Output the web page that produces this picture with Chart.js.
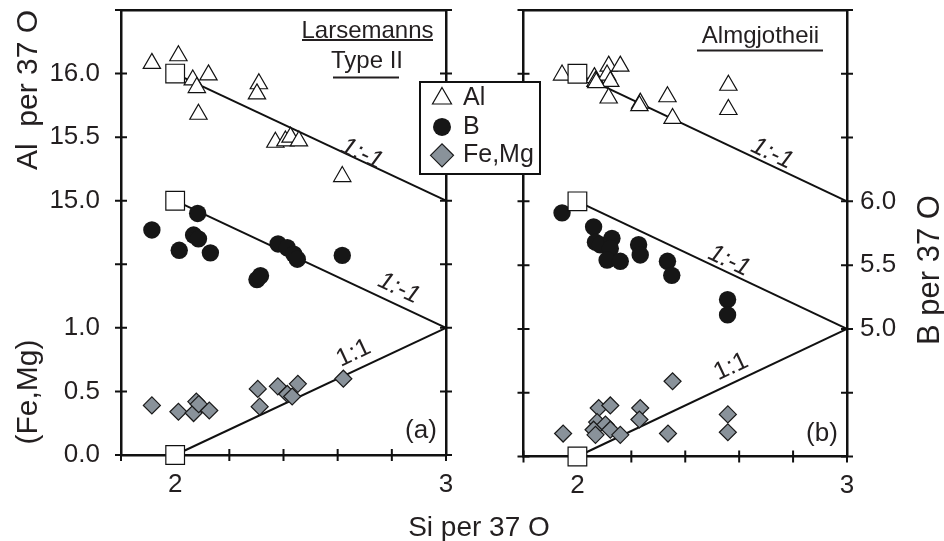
<!DOCTYPE html>
<html>

<head>
  <title>Si per 37 O</title>
  <script src="https://cdn.jsdelivr.net/npm/chart.js@4.4.0/dist/chart.umd.min.js"></script>
  <style>
    body { margin: 0; background: #fff; }
    #wrap { position: relative; width: 944px; height: 541px; overflow: hidden; }
    #chartB { position: absolute; left: 470px; top: 0; }
    #chartA { position: absolute; left: 0; top: 0; z-index: 2; }
  </style>
</head>

<body>
  <div id="wrap">
    <canvas id="chartB" width="474" height="541"></canvas>
    <canvas id="chartA" width="560" height="541"></canvas>
  </div>

  <script>
    // Al and B share the y axis with (Fe,Mg): Al is plotted as Al - 13, B as B - 4
    const AL_OFFSET = 13;
    const B_OFFSET = 4;

    // (a) Larsemanns Type II
    const siAlA = [1.914, 2.012, 2.065, 2.080, 2.123, 2.086, 2.309, 2.302, 2.370, 2.407, 2.426, 2.457, 2.617];
    const alA = [16.08, 16.14, 15.95, 15.89, 15.99, 15.68, 15.92, 15.84, 15.46, 15.47, 15.50, 15.47, 15.19];
    const siBA = [1.914, 2.015, 2.083, 2.068, 2.086, 2.130, 2.380, 2.414, 2.438, 2.451, 2.617, 2.302, 2.315];
    const bA = [5.77, 5.61, 5.90, 5.73, 5.70, 5.59, 5.66, 5.63, 5.58, 5.54, 5.57, 5.38, 5.41];
    const siFeA = [1.914, 2.012, 2.068, 2.078, 2.087, 2.126, 2.305, 2.312, 2.379, 2.414, 2.432, 2.453, 2.621];
    const feA = [0.39, 0.34, 0.33, 0.42, 0.40, 0.35, 0.52, 0.38, 0.54, 0.48, 0.46, 0.56, 0.60];

    // (b) Almgjotheii
    const siAlB = [1.943, 2.063, 2.067, 2.116, 2.159, 2.110, 2.122, 2.070, 2.116, 2.233, 2.230, 2.334, 2.353, 2.560, 2.560];
    const alB = [15.99, 15.97, 15.94, 16.06, 16.06, 15.99, 15.94, 15.93, 15.81, 15.77, 15.75, 15.82, 15.65, 15.91, 15.72];
    const siBB = [1.943, 2.060, 2.067, 2.085, 2.128, 2.122, 2.110, 2.159, 2.227, 2.233, 2.334, 2.350, 2.557, 2.557];
    const bB = [5.91, 5.80, 5.68, 5.66, 5.71, 5.63, 5.54, 5.53, 5.66, 5.58, 5.53, 5.42, 5.23, 5.11];
    const siFeB = [1.947, 2.079, 2.122, 2.073, 2.060, 2.067, 2.104, 2.122, 2.159, 2.233, 2.230, 2.336, 2.353, 2.558, 2.558];
    const feB = [0.18, 0.38, 0.40, 0.27, 0.21, 0.17, 0.25, 0.21, 0.17, 0.38, 0.29, 0.18, 0.59, 0.33, 0.19];

    // substitution trends from the ideal end member at Si = 2
    const trendSi = [2, 3];
    const trendAl = [16, 15];
    const trendB = [6, 5];
    const trendFe = [0, 1];

    const xTicks = [2, 3];
    const feTicks = [0, 0.5, 1];
    const alTicks = [15, 15.5, 16];
    const bTicks = [5, 5.5, 6];

    const FONT = "'Liberation Sans', Arial, sans-serif";
    const INK = '#231f20';
    const TICK = 6;

    const near = (a, b) => Math.abs(a - b) < 1e-6;
    const pts = (xs, ys, off) => xs.map((x, i) => ({ x: x, y: ys[i] - off }));

    function markerSets(siAl, al, siB, b, siFe, fe) {
      return [
        { label: 'Al', data: pts(siAl, al, AL_OFFSET), pointStyle: 'triangle', pointRadius: 10,
          backgroundColor: '#fff', borderColor: '#111', borderWidth: 1.2, order: 2, clip: false },
        { label: 'B', data: pts(siB, b, B_OFFSET), pointStyle: 'circle', pointRadius: 8.7,
          backgroundColor: '#161616', borderColor: '#161616', borderWidth: 0, order: 2, clip: false },
        { label: 'Fe,Mg', data: pts(siFe, fe, 0), pointStyle: 'rectRot', pointRadius: 8.5,
          backgroundColor: '#89929a', borderColor: '#1a1a1a', borderWidth: 1.2, order: 2, clip: false },
        { label: 'end member', data: [{ x: trendSi[0], y: trendAl[0] - AL_OFFSET }, { x: trendSi[0], y: trendB[0] - B_OFFSET }, { x: trendSi[0], y: trendFe[0] }],
          pointStyle: 'rect', pointRadius: 13.2, backgroundColor: '#fff', borderColor: '#111', borderWidth: 1.2, order: 1, clip: false },
        lineSet(pts(trendSi, trendAl, AL_OFFSET)),
        lineSet(pts(trendSi, trendB, B_OFFSET)),
        lineSet(pts(trendSi, trendFe, 0))
      ];
    }

    function lineSet(data) {
      return { type: 'line', data: data, showLine: true, pointRadius: 0, borderColor: '#111', borderWidth: 2, order: 5, clip: false };
    }

    // short line height for y labels so they don't pad the frame;
    // the tick marks themselves are drawn by the innerTicks plugin
    const tickFont = { family: FONT, size: 26 };
    const yTickFont = { family: FONT, size: 26, lineHeight: 0.3 };
    const hiddenTicks = len => ({ drawOnChartArea: false, tickLength: len, tickColor: 'rgba(0,0,0,0)' });
    const axisBorder = { color: '#111', width: 2.5 };

    function xAxis(height) {
      return {
        type: 'linear', position: 'bottom', min: 1.8, max: 3.0,
        ticks: { stepSize: 0.2, autoSkip: false, maxRotation: 0, padding: 8, color: INK, font: tickFont,
          callback: v => xTicks.some(t => near(t, v)) ? String(Math.round(v)) : '' },
        grid: hiddenTicks(TICK), border: axisBorder,
        afterFit: s => { s.height = height; }
      };
    }

    function topAxis() {
      return {
        type: 'linear', position: 'top', min: 1.8, max: 3.0,
        ticks: { display: false },
        grid: { drawOnChartArea: false, drawTicks: false }, border: axisBorder,
        afterFit: s => { s.height = 10; }
      };
    }

    function yAxis(position, width, gap, label) {
      return {
        type: 'linear', position: position, min: 0, max: 3.5,
        ticks: { stepSize: 0.5, autoSkip: false, padding: 0, color: INK, font: yTickFont, callback: label },
        grid: hiddenTicks(gap), border: axisBorder,
        afterFit: s => { s.width = width; }
      };
    }

    const leftLabels = v => {
      if (feTicks.some(t => near(t, v))) return v.toFixed(1);
      if (alTicks.some(t => near(t, v + AL_OFFSET))) return (v + AL_OFFSET).toFixed(1);
      return '';
    };
    const rightLabels = v => bTicks.some(t => near(t, v + B_OFFSET)) ? (v + B_OFFSET).toFixed(1) : '';
    const noLabels = () => '';

    // tick marks cross the frame
    const innerTicks = {
      id: 'innerTicks',
      beforeDatasetsDraw(chart) {
        const { ctx, chartArea: a } = chart;
        ctx.save();
        ctx.strokeStyle = '#111';
        ctx.lineWidth = 2;
        ctx.beginPath();
        Object.values(chart.scales).forEach(s => {
          if (!s.options.grid.drawTicks) return;
          s.ticks.forEach(t => {
            const p = s.getPixelForValue(t.value);
            if (s.position === 'bottom') { ctx.moveTo(p, a.bottom + TICK); ctx.lineTo(p, a.bottom - TICK); }
            if (s.position === 'left') { ctx.moveTo(a.left - TICK, p); ctx.lineTo(a.left + TICK, p); }
            if (s.position === 'right') { ctx.moveTo(a.right + TICK, p); ctx.lineTo(a.right - TICK, p); }
          });
        });
        ctx.stroke();
        ctx.restore();
      }
    };

    function text(ctx, str, x, y, o) {
      ctx.save();
      ctx.translate(x, y);
      if (o.angle) ctx.rotate(o.angle);
      ctx.font = (o.italic ? 'italic ' : '') + o.size + 'px ' + FONT;
      ctx.fillStyle = INK;
      ctx.textAlign = o.align || 'center';
      ctx.textBaseline = o.baseline || 'alphabetic';
      ctx.fillText(str, 0, 0);
      ctx.restore();
    }

    function rule(ctx, x1, x2, y) {
      ctx.save();
      ctx.strokeStyle = INK;
      ctx.lineWidth = 2;
      ctx.beginPath();
      ctx.moveTo(x1, y);
      ctx.lineTo(x2, y);
      ctx.stroke();
      ctx.restore();
    }

    // ratio labels sit along the trend lines, rotated with them
    function ratioLabels(chart, labels) {
      const { x, y } = chart.scales;
      labels.forEach(l => {
        const x1 = x.getPixelForValue(trendSi[0]), x2 = x.getPixelForValue(trendSi[1]);
        const y1 = y.getPixelForValue(l.trend[0]), y2 = y.getPixelForValue(l.trend[1]);
        const ang = Math.atan2(y2 - y1, x2 - x1);
        text(chart.ctx, l.text, x.getPixelForValue(l.at[0]), y.getPixelForValue(l.at[1]),
          { size: 25, italic: l.italic, angle: ang, baseline: 'middle' });
      });
    }

    const labelsA = [
      { text: '1:-1', italic: true, at: [2.689, 2.369], trend: [trendAl[0] - AL_OFFSET, trendAl[1] - AL_OFFSET] },
      { text: '1:-1', italic: true, at: [2.826, 1.31], trend: [trendB[0] - B_OFFSET, trendB[1] - B_OFFSET] },
      { text: '1:1', italic: false, at: [2.659, 0.80], trend: trendFe }
    ];
    const labelsB = [
      { text: '1:-1', italic: true, at: [2.722, 2.373], trend: [trendAl[0] - AL_OFFSET, trendAl[1] - AL_OFFSET] },
      { text: '1:-1', italic: true, at: [2.563, 1.533], trend: [trendB[0] - B_OFFSET, trendB[1] - B_OFFSET] },
      { text: '1:1', italic: false, at: [2.570, 0.702], trend: trendFe }
    ];

    const notesA = {
      id: 'notesA',
      afterDraw(chart) {
        const ctx = chart.ctx;
        ratioLabels(chart, labelsA);
        text(ctx, 'Larsemanns', 367.5, 37.5, { size: 24 });
        rule(ctx, 302, 433, 40);
        text(ctx, 'Type II', 367, 67.5, { size: 24 });
        rule(ctx, 333, 399, 77.5);
        text(ctx, '(a)', 421, 431, { size: 26, baseline: 'middle' });
        text(ctx, 'Al  per 37 O', 36.5, 90, { size: 30, angle: -Math.PI / 2 });
        text(ctx, '(Fe,Mg)', 36.5, 392, { size: 30, angle: -Math.PI / 2 });
        text(ctx, 'Si per 37 O', 479, 536, { size: 28 });

        // legend box, symbols taken from the datasets
        const box = { x: 420, y: 82, w: 120, h: 92 };
        ctx.save();
        ctx.fillStyle = '#fff';
        ctx.fillRect(box.x, box.y, box.w, box.h);
        ctx.strokeStyle = '#111';
        ctx.lineWidth = 2;
        ctx.strokeRect(box.x, box.y, box.w, box.h);
        const sizes = { 'Al': 11, 'B': 9, 'Fe,Mg': 11.5 };
        ['Al', 'B', 'Fe,Mg'].forEach((name, i) => {
          const ds = chart.data.datasets.find(d => d.label === name);
          const cy = box.y + 16.5 + i * 28.4;
          ctx.fillStyle = ds.backgroundColor;
          ctx.strokeStyle = ds.borderColor;
          ctx.lineWidth = ds.borderWidth;
          Chart.helpers.drawPoint(ctx, { pointStyle: ds.pointStyle, radius: sizes[name], borderWidth: ds.borderWidth, rotation: 0 }, box.x + 22, cy);
          text(ctx, name, box.x + 43, cy, { size: 25, align: 'left', baseline: 'middle' });
        });
        ctx.restore();
      }
    };

    const notesB = {
      id: 'notesB',
      afterDraw(chart) {
        const ctx = chart.ctx;
        ratioLabels(chart, labelsB);
        text(ctx, 'Almgjotheii', 290.5, 43, { size: 24 });
        rule(ctx, 227, 353, 50.5);
        text(ctx, '(b)', 352, 434, { size: 26, baseline: 'middle' });
        text(ctx, 'B per 37 O', 469, 270, { size: 31, angle: -Math.PI / 2 });
      }
    };

    // marker overflow is allowed past the frame, so no automatic padding
    const layout = { padding: 0, autoPadding: false };

    new Chart(document.getElementById('chartA'), {
      type: 'scatter',
      data: { datasets: markerSets(siAlA, alA, siBA, bA, siFeA, feA) },
      options: {
        responsive: false,
        animation: false,
        layout: layout,
        plugins: { legend: { display: false }, tooltip: { enabled: false } },
        scales: {
          x: xAxis(86),
          xTop: topAxis(),
          y: yAxis('left', 121, 21, leftLabels),
          y2: yAxis('right', 114, TICK, noLabels)
        }
      },
      plugins: [innerTicks, notesA]
    });

    new Chart(document.getElementById('chartB'), {
      type: 'scatter',
      data: { datasets: markerSets(siAlB, alB, siBB, bB, siFeB, feB) },
      options: {
        responsive: false,
        animation: false,
        layout: layout,
        plugins: { legend: { display: false }, tooltip: { enabled: false } },
        scales: {
          x: xAxis(84.5),
          xTop: topAxis(),
          yL: yAxis('left', 53.5, TICK, noLabels),
          y: yAxis('right', 97, 13, rightLabels)
        }
      },
      plugins: [innerTicks, notesB]
    });
  </script>
</body>

</html>
